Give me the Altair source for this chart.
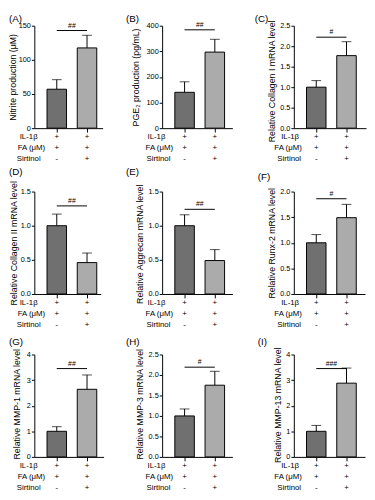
import altair as alt
import pandas as pd

# ---------------- data ----------------
GROUPS = ["IL-1β + FA", "IL-1β + FA + Sirtinol"]
IL1B = ["+", "+"]
FA = ["+", "+"]
SIRTINOL = ["-", "+"]
ROW_LABELS = ["IL-1β", "FA (μM)", "Sirtinol"]

PANEL_TAGS = ["(A)", "(B)", "(C)", "(D)", "(E)", "(F)", "(G)", "(H)", "(I)"]
Y_TITLES = [
    "Nitrite production (μM)",
    "PGE₂ production (pg/mL)",
    "Relative Collagen I mRNA level",
    "Relative Collagen II mRNA level",
    "Relative Aggrecan mRNA level",
    "Relative Runx-2 mRNA level",
    "Relative MMP-1 mRNA level",
    "Relative MMP-3 mRNA level",
    "Relative MMP-13 mRNA level",
]
NITRITE_MEAN = [57, 117.5]
NITRITE_SD = [14, 18.5]
PGE2_MEAN = [140, 297]
PGE2_SD = [41, 50]
COL1_MEAN = [1.0, 1.77]
COL1_SD = [0.16, 0.34]
COL2_MEAN = [1.0, 0.46]
COL2_SD = [0.17, 0.14]
AGG_MEAN = [1.0, 0.49]
AGG_SD = [0.16, 0.16]
RUNX2_MEAN = [1.0, 1.49]
RUNX2_SD = [0.16, 0.26]
MMP1_MEAN = [1.0, 2.64]
MMP1_SD = [0.18, 0.56]
MMP3_MEAN = [1.0, 1.75]
MMP3_SD = [0.17, 0.34]
MMP13_MEAN = [1.0, 2.88]
MMP13_SD = [0.23, 0.59]

MEANS = [NITRITE_MEAN, PGE2_MEAN, COL1_MEAN, COL2_MEAN, AGG_MEAN,
         RUNX2_MEAN, MMP1_MEAN, MMP3_MEAN, MMP13_MEAN]
SDS = [NITRITE_SD, PGE2_SD, COL1_SD, COL2_SD, AGG_SD,
       RUNX2_SD, MMP1_SD, MMP3_SD, MMP13_SD]
SIG_Y = [143, 384, 2.22, 1.29, 1.24, 1.86, 3.45, 2.19, 3.45]
SIG_TEXT = ["##", "##", "#", "##", "##", "#", "##", "#", "###"]
Y_TICKS = [
    [0, 50, 100, 150],
    [0, 100, 200, 300, 400],
    [0, 0.5, 1.0, 1.5, 2.0, 2.5],
    [0, 0.5, 1.0, 1.5],
    [0, 0.5, 1.0, 1.5],
    [0, 0.5, 1.0, 1.5, 2.0],
    [0, 1, 2, 3, 4],
    [0, 0.5, 1.0, 1.5, 2.0, 2.5],
    [0, 1, 2, 3, 4],
]
Y_FORMAT = ["d", "d", ".1f", ".1f", ".1f", ".1f", "d", ".1f", "d"]

# ---------------- layout / style ----------------
FONT = "Liberation Sans, Arial, sans-serif"
BAR_FILLS = ["#707070", "#ababab"]
COL_W = [120, 132, 115]
COL_L = [26, 37, 40]
ROW_H = [157, 174, 161]
ROW_T = [12, 25, 18]
PLOT_W = [70, 72, 74, 68, 72, 73, 71, 72, 73]
PLOT_H = 105
TITLE_PAD = [1, 6, 3, 2, 4, 3, 5, 4, 3]
TITLE_SHIFT = [0, 0, 4, 0, 1, 0, -2, -2, -1]
ROW_LABEL_X = [[-15, -17, -18], [-15, -17, -16], [-13, -20, -17]]
ROW_LABEL_DY = [9, 20.5, 32]
TAG_X = [-26, -37, -40, -26, -37, -37, -26, -37, -37]
TAG_TOP = [-12, -12, -12, -25, -25, -20, -18, -18, -18]
BAR_STEP = 31
BAR_W = 20
LEFT_GAP = 13


def panel(i):
    r, c = divmod(i, 3)
    w, h = PLOT_W[i], PLOT_H
    L = COL_L[c]
    R = COL_W[c] - L - w
    T = ROW_T[r]
    B = ROW_H[r] - T - h

    df = pd.DataFrame({"group": GROUPS, "mean": MEANS[i], "sd": SDS[i]})
    df["upper"] = df["mean"] + df["sd"]

    # band geometry (pixels) expressed as relative paddings
    p_in = 1 - BAR_W / BAR_STEP
    outer = w - BAR_STEP - BAR_W
    p_out = outer / 2 / BAR_STEP
    align = min(max(LEFT_GAP / outer, 0), 1) if outer > 0 else 0.5
    xs = alt.Scale(domain=GROUPS, paddingInner=p_in, paddingOuter=p_out, align=align)
    ys = alt.Scale(domain=[0, Y_TICKS[i][-1]], nice=False, zero=True)
    x_axis = alt.Axis(title=None, labels=False, ticks=True, tickSize=4,
                      domainColor="black", tickColor="black", domainWidth=1, tickWidth=1)
    y_axis = alt.Axis(title=Y_TITLES[i], values=Y_TICKS[i], format=Y_FORMAT[i],
                      titlePadding=TITLE_PAD[i], titleFontSize=9, titleFontWeight="normal",
                      titleY=h / 2 + TITLE_SHIFT[i],
                      titleColor="black", labelFontSize=7.5, labelColor="black",
                      labelPadding=1, tickSize=3, grid=False,
                      domainColor="black", tickColor="black", domainWidth=1, tickWidth=1)

    def X(f):
        return alt.X(f, type="nominal", scale=xs, axis=x_axis, sort=GROUPS)

    def Y(f):
        return alt.Y(f, type="quantitative", scale=ys, axis=y_axis)

    base = alt.Chart(df)
    bars = base.mark_bar(stroke="black", strokeWidth=1).encode(
        x=X("group"), y=Y("mean"),
        fill=alt.Fill("group:N", scale=alt.Scale(domain=GROUPS, range=BAR_FILLS), legend=None),
    )
    err = base.mark_rule(color="black", strokeWidth=1).encode(
        x=X("group"), y=Y("mean"), y2="upper:Q")
    cap = base.mark_tick(color="black", thickness=1, size=10).encode(
        x=X("group"), y=Y("upper"))

    sig_df = pd.DataFrame({"g1": [GROUPS[0]], "g2": [GROUPS[1]],
                           "y": [SIG_Y[i]], "label": [SIG_TEXT[i]]})
    sig_line = alt.Chart(sig_df).mark_rule(color="black", strokeWidth=1).encode(
        x=X("g1"), x2="g2:N", y=Y("y"))
    sig_txt = alt.Chart(sig_df).mark_text(dx=BAR_STEP / 2, dy=-2, baseline="bottom",
                                          fontSize=7, color="black").encode(
        x=X("g1"), y=Y("y"), text="label:N")

    signs_df = pd.DataFrame({"group": GROUPS,
                             "signs": ["\n".join(t) for t in zip(IL1B, FA, SIRTINOL)]})
    signs = alt.Chart(signs_df).mark_text(lineBreak="\n", lineHeight=11.5, baseline="top",
                                          fontSize=8, color="black").encode(
        x=X("group"), y=alt.value(h + 5), text="signs:N")

    row_layers = []
    for k, lab in enumerate(ROW_LABELS):
        row_layers.append(
            alt.Chart(pd.DataFrame({"label": [lab]})).mark_text(
                baseline="middle", align="left", fontSize=8, color="black").encode(
                x=alt.value(ROW_LABEL_X[c][k]), y=alt.value(h + ROW_LABEL_DY[k]),
                text="label:N"))

    tag = alt.Chart(pd.DataFrame({"tag": [PANEL_TAGS[i]]})).mark_text(
        align="left", baseline="top", fontSize=10, color="black").encode(
        x=alt.value(TAG_X[i]), y=alt.value(TAG_TOP[i]), text="tag:N")

    frame = alt.Chart(pd.DataFrame({"k": [0]})).mark_rect(opacity=0).encode(
        x=alt.value(-L), x2=alt.value(w + R), y=alt.value(-T), y2=alt.value(h + B))

    return alt.layer(frame, bars, err, cap, sig_line, sig_txt, signs, *row_layers, tag).properties(
        width=w, height=h)


chart = alt.concat(*[panel(i) for i in range(9)], columns=3, spacing=0,
                   align="each", bounds="full").properties(padding=0).configure(
    font=FONT).configure_view(stroke=None)

chart.save("out.html", embed_options={"renderer": "svg", "actions": False})
